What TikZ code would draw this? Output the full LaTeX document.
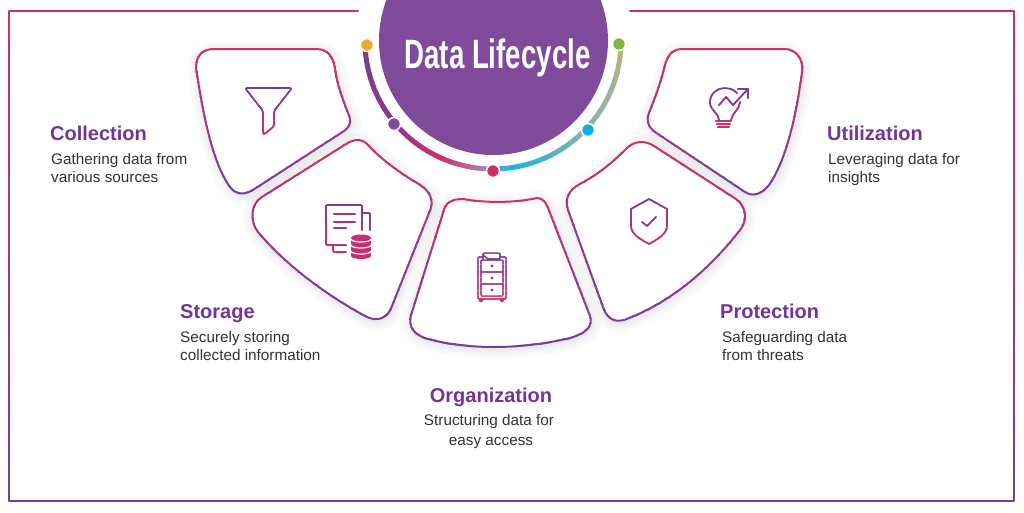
\documentclass[tikz,border=0pt]{standalone}
\usepackage{fontspec}
\setmainfont{Liberation Sans}
\definecolor{cardpink}{HTML}{D02F69}
\definecolor{cardpurple}{HTML}{763F9F}
\definecolor{discpurple}{HTML}{804A9B}
\definecolor{headpurple}{HTML}{74359A}
\definecolor{bodygray}{HTML}{333333}
\tikzset{
    headlabel/.style={anchor=base west,font=\fontsize{20}{24}\selectfont\bfseries,text=headpurple,inner sep=0pt},
    bodylabel/.style={anchor=base west,font=\fontsize{15.3}{19}\selectfont,text=bodygray,inner sep=0pt},
    ringdot/.style={circle,draw=white,line width=1.5pt,minimum size=13pt,inner sep=0pt},
}
\newcommand{\gradline}[6]{%
    \foreach \i in {0,...,29}{
        \pgfmathsetmacro{\bandy}{#2+\i*(#3-#2)/30}
        \pgfmathsetmacro{\bandh}{(#3-#2)/30+0.4}
        \pgfmathsetmacro{\pct}{\i*100/29}
        \begin{scope}
            \clip (0,\bandy) rectangle (1024,\bandy+\bandh);
            \draw[line width=#1,line join=round,line cap=round,color={#5!\pct!#4}] #6;
        \end{scope}
    }%
}
\newcommand{\softshadow}[1]{%
    \foreach \w in {20,15,10,6,3}{
        \draw[black,opacity=.016,line width=\w pt,line join=round,shift={(1,2)}] #1;
    }%
}
\def\cardcollection{(196,68) .. controls (196,55) and (203,49) .. (214,49) -- (316,49) .. controls (328,49) and (333,57) .. (335,68) .. controls (337,85) and (343,100) .. (348,113) .. controls (352,122) and (350,127) .. (344,131) -- (256,188) .. controls (246,195) and (237,196) .. (230,187) .. controls (213,163) and (204,120) .. (196,68) -- cycle}
\def\cardstorage{(262,197) -- (346,144) .. controls (354,139) and (362,138) .. (368,145) .. controls (378,156) and (395,170) .. (417,183) .. controls (426,188) and (434,196) .. (431,208) -- (392,306) .. controls (388,318) and (378,322) .. (367,317) .. controls (335,300) and (290,270) .. (258,232) .. controls (250,222) and (250,204) .. (262,197) -- cycle}
\def\cardorganization{(443,213) .. controls (445,203) and (451,199) .. (463,199) .. controls (485,203) and (515,203) .. (537,198) .. controls (543,198) and (546,203) .. (548,208) -- (590,316) .. controls (593,326) and (587,333) .. (570,338) .. controls (520,350) and (465,350) .. (425,338) .. controls (410,333) and (408,322) .. (412,312) -- cycle}
\def\cardprotection{(580,184) .. controls (600,173) and (612,163) .. (627,148) .. controls (634,141) and (645,140) .. (654,146) -- (736,199) .. controls (746,206) and (748,220) .. (740,230) .. controls (705,275) and (665,305) .. (624,320) .. controls (612,323) and (606,316) .. (603,307) -- (568,210) .. controls (564,198) and (570,189) .. (580,184) -- cycle}
\def\cardutilization{(665,65) .. controls (668,55) and (672,49) .. (683,49) -- (785,49) .. controls (796,49) and (804,60) .. (802,72) .. controls (797,110) and (788,155) .. (771,182) .. controls (763,195) and (752,197) .. (745,192) -- (655,132) .. controls (648,127) and (646,120) .. (649,113) .. controls (656,95) and (660,85) .. (665,65) -- cycle}
\begin{document}
\begin{tikzpicture}[x=1pt,y=-1pt]
    \useasboundingbox (0,0) rectangle (1024,512);
    \fill[white] (0,0) rectangle (1024,512);

    \gradline{2pt}{9}{503}{cardpink}{cardpurple}{(358,11) -- (9,11) -- (9,501) -- (1014,501) -- (1014,11) -- (630,11)}

    \softshadow{\cardcollection}
    \softshadow{\cardstorage}
    \softshadow{\cardorganization}
    \softshadow{\cardprotection}
    \softshadow{\cardutilization}
    \fill[white] \cardcollection;
    \fill[white] \cardstorage;
    \fill[white] \cardorganization;
    \fill[white] \cardprotection;
    \fill[white] \cardutilization;
    \gradline{2pt}{47}{196}{cardpink}{cardpurple}{\cardcollection}
    \gradline{2pt}{138}{321}{cardpink}{cardpurple}{\cardstorage}
    \gradline{2pt}{196}{349}{cardpink}{cardpurple}{\cardorganization}
    \gradline{2pt}{140}{322}{cardpink}{cardpurple}{\cardprotection}
    \gradline{2pt}{47}{196}{cardpink}{cardpurple}{\cardutilization}

    \begin{scope}
        \clip (0,0) rectangle (1024,512);
        \fill[discpurple] (493.5,40.5) circle (114.5);
    \end{scope}
    \node (title) at (497.5,58) {\scalebox{0.675}[1]{\fontsize{41}{41}\selectfont\bfseries\color{white}Data Lifecycle}};

    \foreach \from/\to/\cola/\colb in {178/140/763F8F/8A3A88,140/115/8A3A88/CC2F68,115/92/CC2F68/A88AAB,90/83/6A9CC8/1FB0DC,83/44/1FB0DC/84B5AE,44/0/84B5AE/BDB27A}{
        \definecolor{arcstart}{HTML}{\cola}
        \definecolor{arcend}{HTML}{\colb}
        \foreach \k in {0,...,11}{
            \pgfmathsetmacro{\ta}{\from+(\to-\from)*\k/12}
            \pgfmathsetmacro{\tb}{\from+(\to-\from)*(\k+1.15)/12}
            \pgfmathsetmacro{\pct}{\k*100/11}
            \draw[line width=5pt,color={arcend!\pct!arcstart}] plot[domain=\ta:\tb,samples=4] ({493+128*cos(\x)},{41+128*sin(\x)});
        }
    }
    \node[ringdot,fill={rgb,255:red,240;green,168;blue,48}] (dotorange) at (367,45) {};
    \node[ringdot,fill=discpurple] (dotpurple) at (394,124) {};
    \node[ringdot,fill={rgb,255:red,204;green,47;blue,99}] (dotred) at (493,171) {};
    \node[ringdot,fill={rgb,255:red,16;green,174;blue,224}] (dotblue) at (588,130) {};
    \node[ringdot,fill={rgb,255:red,122;green,185;blue,60}] (dotgreen) at (619,44) {};

    \gradline{1.6pt}{87}{135}{cardpurple}{cardpink}{[rounded corners=1.5pt] (245,88) -- (292,88) -- (274,111) -- (274,126) -- (265,134) -- (263,134) -- (263,111) -- cycle}

    \gradline{1.6pt}{204}{253}{cardpurple}{cardpink}{[rounded corners=1pt] (362,230) -- (362,205) -- (326,205) -- (326,245) -- (346,245) (333,245) -- (333,252) -- (346,252) (363,213) -- (370,213) -- (370,230) (334,214) -- (355,214) (334,222) -- (355,222) (334,228) -- (346,228)}
    \fill[cardpink!85!cardpurple] (351,238) rectangle (371,256);
    \fill[cardpink!85!cardpurple] (361,238) ellipse (10 and 3.5);
    \fill[cardpink!85!cardpurple] (361,256) ellipse (10 and 3);
    \draw[white,line width=1.2pt] (351,239) arc[start angle=180,end angle=0,x radius=10,y radius=3];
    \draw[white,line width=1.2pt] (351,245) arc[start angle=180,end angle=0,x radius=10,y radius=3];
    \draw[white,line width=1.2pt] (351,251) arc[start angle=180,end angle=0,x radius=10,y radius=3];

    \gradline{1.2pt}{252}{301}{cardpurple}{cardpink}{[rounded corners=1pt] (483,257) -- (478,257) -- (478,299) -- (506,299) -- (506,257) -- (500,257) (481,260) rectangle (503,296) (481,272) -- (503,272) (481,284) -- (503,284) (483,259) -- (483,253) -- (500,253) -- (500,259) -- (488,259) -- (483,255)}
    \foreach \dy in {266,278,290}{
        \fill[cardpink!55!cardpurple] (492,\dy) circle (1.6);
    }
    \fill[cardpink] (481,300) circle (2.2);
    \fill[cardpink] (502,300) circle (2.2);

    \gradline{1.6pt}{197}{246}{cardpurple}{cardpink}{(649,199) -- (667,209) -- (667,226) .. controls (667,234) and (658,239) .. (649,244) .. controls (640,239) and (631,234) .. (631,226) -- (631,209) -- cycle (642,222) -- (647,226) -- (656,217)}

    \gradline{1.6pt}{87}{128}{cardpurple}{cardpink}{(719,120) .. controls (719,113) and (710,111) .. (710,102) .. controls (710,93) and (718,88) .. (725,88) .. controls (730,88) and (734,90) .. (737,93) (740,102) .. controls (740,109) and (732,113) .. (731,120) (719,105) -- (726,97) -- (733,105) -- (748,89) (738,89) -- (748,89) -- (748,98) (716,121) -- (731,121) (717,124) -- (730,124) (718,127) -- (729,127)}

    \node[headlabel] (collectionhead) at (50,140) {Collection};
    \node[bodylabel] (collectiontext) at (51,164) {Gathering data from};
    \node[bodylabel] (collectionmore) at (51,182) {various sources};
    \node[headlabel] (storagehead) at (180,318) {Storage};
    \node[bodylabel] (storagetext) at (180,342) {Securely storing};
    \node[bodylabel] (storagemore) at (180,360) {collected information};
    \node[headlabel,anchor=base] (organizationhead) at (491,402) {Organization};
    \node[bodylabel,anchor=base] (organizationtext) at (489,425) {Structuring data for};
    \node[bodylabel,anchor=base] (organizationmore) at (491,445) {easy access};
    \node[headlabel] (protectionhead) at (720,318) {Protection};
    \node[bodylabel] (protectiontext) at (722,342) {Safeguarding data};
    \node[bodylabel] (protectionmore) at (722,360) {from threats};
    \node[headlabel] (utilizationhead) at (827,140) {Utilization};
    \node[bodylabel] (utilizationtext) at (828,164) {Leveraging data for};
    \node[bodylabel] (utilizationmore) at (828,182) {insights};
\end{tikzpicture}
\end{document}
